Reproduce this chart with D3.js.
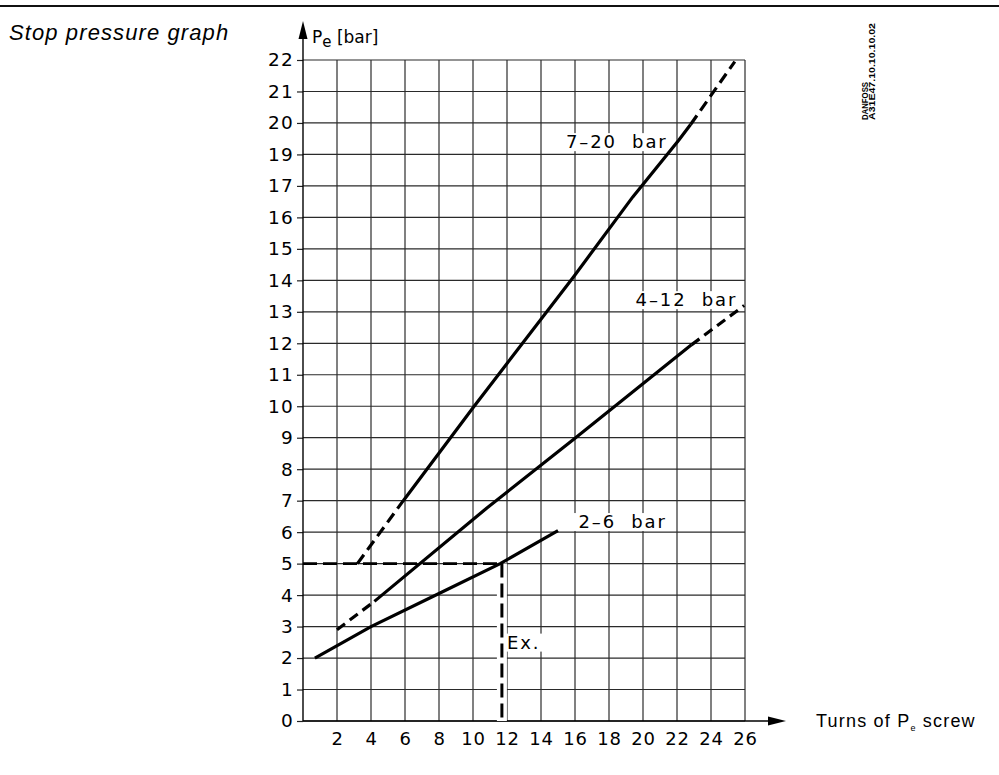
<!DOCTYPE html>
<html>
<head>
<meta charset="utf-8">
<script src="https://cdn.jsdelivr.net/npm/d3@7"></script>
<style>
  body { margin: 0; background: #fff; }
  svg { display: block; }
</style>
</head>
<body>
<svg id="chart"></svg>
<script>
// tick labels as printed on the drawing (18 is missing on the original)
const xTicks = [2, 4, 6, 8, 10, 12, 14, 16, 18, 20, 22, 24, 26];
const yTicks = [0, 1, 2, 3, 4, 5, 6, 7, 8, 9, 10, 11, 12, 13, 14, 15, 16, 17, 19, 20, 21, 22];

// curves: [turns, pressure bar]
const range7to20Dash1 = [[3.2, 5], [5.9, 7]];
const range7to20Solid = [[5.9, 7], [10, 9.95], [15.9, 14.1], [19.4, 16.65], [22.1, 19.45], [22.8, 19.95]];
const range7to20Dash2 = [[22.8, 19.95], [25.4, 21.95]];

const range4to12Dash1 = [[2, 2.9], [4.2, 3.8]];
const range4to12Solid = [[4.2, 3.8], [10.8, 6.76], [16, 8.98], [22.85, 11.95]];
const range4to12Dash2 = [[22.85, 11.95], [25.95, 13.2]];

const range2to6Solid = [[0.7, 2], [4, 3], [8, 4.05], [11.6, 5], [15, 6.05]];

// example reading
const exampleTurns = 11.7;
const examplePressure = 5;

const W = 999, H = 775;
const svg = d3.select('#chart').attr('width', W).attr('height', H);

// top rule
svg.append('line')
    .attr('x1', 0).attr('x2', W).attr('y1', 6).attr('y2', 6)
    .style('stroke', '#111').style('stroke-width', 2);

svg.append('text')
    .attr('x', 9).attr('y', 40)
    .style('font-family', '"Liberation Sans", Arial, sans-serif')
    .style('font-style', 'italic')
    .style('font-size', '22px')
    .style('letter-spacing', '1.1px')
    .text('Stop pressure graph');

// drawing number
[['DANFOSS', 867.5, 38], ['A31E47.10.10.10.02', 874.5, 97]].forEach(function(d) {
	svg.append('text')
	    .attr('transform', 'translate(' + d[1] + ',120) rotate(-90)')
	    .attr('textLength', d[2])
	    .attr('lengthAdjust', 'spacingAndGlyphs')
	    .style('font-family', '"Liberation Sans", Arial, sans-serif')
	    .style('font-weight', 'bold')
	    .style('font-size', '8.5px')
	    .text(d[0]);
});

const x = d3.scaleLinear().domain([0, 26]).range([303, 745]);
// the y axis is laid out per printed label, so the scale is piecewise
const step = (721 - 60) / 21;
const y = d3.scaleLinear()
    .domain([0, 17, 19, 22])
    .range([721, 721 - 17 * step, 721 - 18 * step, 721 - 21 * step]);

const FONT = '"DejaVu Sans", sans-serif';
const grid = svg.append('g');

// vertical grid
grid.selectAll('line.v').data(xTicks).enter().append('line')
    .attr('x1', d => x(d)).attr('x2', d => x(d))
    .attr('y1', y(22)).attr('y2', y(0))
    .style('stroke', '#3c3c3c').style('stroke-width', 1.3);
// horizontal grid
grid.selectAll('line.h').data(yTicks).enter().append('line')
    .attr('x1', x(0)).attr('x2', x(26))
    .attr('y1', d => y(d)).attr('y2', d => y(d))
    .style('stroke', '#2a2a2a').style('stroke-width', 1.2);

// axes
const yAxis = d3.axisLeft(y).tickValues(yTicks).tickSize(6).tickPadding(3).tickFormat(d3.format('d'));
const gy = svg.append('g').attr('transform', 'translate(' + x(0) + ',0)').call(yAxis);
gy.select('.domain').remove();
gy.selectAll('.tick line').style('stroke', '#222').style('stroke-width', 1.2);
gy.selectAll('.tick text')
    .style('font-family', FONT).style('font-size', '18.5px').style('letter-spacing', '1.2px')
    .attr('fill', '#000');

const xAxis = d3.axisBottom(x).tickValues(xTicks).tickSize(0).tickPadding(11).tickFormat(d3.format('d'));
const gx = svg.append('g').attr('transform', 'translate(0,' + y(0) + ')').call(xAxis);
gx.select('.domain').remove();
gx.selectAll('.tick text')
    .style('font-family', FONT).style('font-size', '18px').style('letter-spacing', '0.8px')
    .attr('fill', '#000');

// axis lines with arrows
svg.append('line')
    .attr('x1', x(0)).attr('x2', x(0)).attr('y1', y(0)).attr('y2', 36)
    .style('stroke', '#000').style('stroke-width', 1.4);
svg.append('path')
    .attr('d', 'M' + x(0) + ',21 L' + (x(0) - 4.5) + ',39 L' + (x(0) + 4.5) + ',39 Z')
    .attr('fill', '#000');
svg.append('line')
    .attr('x1', x(0)).attr('x2', 770).attr('y1', y(0)).attr('y2', y(0))
    .style('stroke', '#000').style('stroke-width', 1.4);
svg.append('path')
    .attr('d', 'M786,' + y(0) + ' L768,' + (y(0) - 4.5) + ' L768,' + (y(0) + 4.5) + ' Z')
    .attr('fill', '#000');

// axis titles
const yTitle = svg.append('text').attr('x', 312).attr('y', 43)
    .style('font-family', FONT).style('font-size', '17px').style('white-space', 'pre');
yTitle.append('tspan').text('P');
yTitle.append('tspan').attr('dy', 4).style('font-size', '15px').text('e');
yTitle.append('tspan').attr('dy', -4).text(' [bar]');

const xTitle = svg.append('text').attr('x', 816).attr('y', 727)
    .style('font-family', '"Liberation Sans", Arial, sans-serif').style('font-size', '18px')
    .style('letter-spacing', '1.2px');
xTitle.append('tspan').text('Turns of P');
xTitle.append('tspan').attr('dy', 4).style('font-size', '9px').text('e');
xTitle.append('tspan').attr('dy', -4).text(' screw');

// curve labels on white patches
const labels = [
	{ text: '7\u201320  bar', tx: 21.45, ty: 19.2, anchor: 'end' },
	{ text: '4\u201312  bar', tx: 25.55, ty: 13.18, anchor: 'end' },
	{ text: '2\u20136  bar', tx: 16.2, ty: 6.13, anchor: 'start' },
	{ text: 'Ex.', tx: 12.0, ty: 2.3, anchor: 'start' }
];
const lab = svg.append('g');
labels.forEach(function(l) {
	var t = lab.append('text')
	    .attr('x', x(l.tx)).attr('y', y(l.ty))
	    .attr('text-anchor', l.anchor)
	    .style('font-family', FONT).style('font-size', '18px').style('letter-spacing', '1.9px')
	    .style('white-space', 'pre')
	    .text(l.text);
	var b = t.node().getBBox();
	var x0 = b.x - 5, x1 = Math.min(b.x + b.width + 3, x(26) - 2);
	lab.insert('rect', 'text')
	    .attr('x', x0).attr('y', b.y + 2)
	    .attr('width', x1 - x0).attr('height', b.height - 3)
	    .attr('fill', '#fff');
});

// example reading lines
svg.append('line')
    .attr('x1', x(exampleTurns)).attr('x2', x(exampleTurns))
    .attr('y1', y(examplePressure)).attr('y2', y(0))
    .style('stroke', '#fff').style('stroke-width', 10);
svg.append('line')
    .attr('x1', x(0)).attr('x2', x(exampleTurns))
    .attr('y1', y(examplePressure)).attr('y2', y(examplePressure))
    .style('stroke', '#000').style('stroke-width', 2.8).style('stroke-dasharray', '14,6');
svg.append('line')
    .attr('x1', x(exampleTurns)).attr('x2', x(exampleTurns))
    .attr('y1', y(examplePressure)).attr('y2', y(0))
    .style('stroke', '#000').style('stroke-width', 3).style('stroke-dasharray', '14,6');

const line = d3.line().x(d => x(d[0])).y(d => y(d[1]));
const curves = [
	[range7to20Dash1, '11,6'], [range7to20Solid, null], [range7to20Dash2, '11,6'],
	[range4to12Dash1, '10,6'], [range4to12Solid, null], [range4to12Dash2, '10,6'],
	[range2to6Solid, null]
];
curves.forEach(function(c) {
	svg.append('path')
	    .attr('d', line(c[0]))
	    .attr('fill', 'none')
	    .style('stroke', '#000')
	    .style('stroke-width', 3.2)
	    .style('stroke-dasharray', c[1])
	    .style('stroke-linecap', 'butt');
});
</script>
</body>
</html>
